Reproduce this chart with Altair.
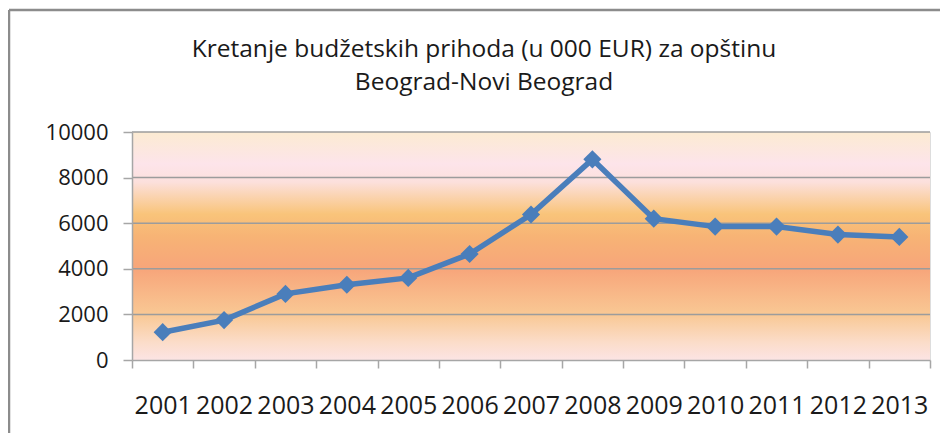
import altair as alt
import pandas as pd

years = ["2001", "2002", "2003", "2004", "2005", "2006", "2007",
         "2008", "2009", "2010", "2011", "2012", "2013"]
values = [1220, 1750, 2900, 3300, 3600, 4650, 6380,
          8800, 6200, 5850, 5850, 5500, 5400]
y_ticks = [0, 2000, 4000, 6000, 8000, 10000]
title_lines = ["Kretanje budžetskih prihoda (u 000 EUR) za opštinu",
               "Beograd-Novi Beograd"]

df = pd.DataFrame({"year": years, "value": values})
grid_df = pd.DataFrame({"value": y_ticks[1:]})
one = pd.DataFrame({"k": [0]})

FONT = "Open Sans"
W, H = 798, 228

grad = alt.Gradient(
    gradient="linear", x1=0, x2=0, y1=0, y2=1,
    stops=[
        alt.GradientStop(offset=0.0, color="#FCEBD2"),
        alt.GradientStop(offset=0.14, color="#FDE4EA"),
        alt.GradientStop(offset=0.22, color="#FCE0DC"),
        alt.GradientStop(offset=0.36, color="#F9C47A"),
        alt.GradientStop(offset=0.46, color="#F7B375"),
        alt.GradientStop(offset=0.60, color="#F7A57A"),
        alt.GradientStop(offset=0.80, color="#F9C894"),
        alt.GradientStop(offset=0.92, color="#FBDCC8"),
        alt.GradientStop(offset=1.0, color="#FCE4E4"),
    ],
)

bg = alt.Chart(one).mark_rect(fill=grad).encode(
    x=alt.value(0), x2=alt.value(W), y=alt.value(0), y2=alt.value(H)
)

y_scale = alt.Scale(domain=[0, 10000], nice=False)
y_axis = alt.Axis(
    title=None, values=y_ticks, format="d", grid=False,
    domainColor="#A6A6A6", tickColor="#A6A6A6", tickSize=9,
    labelPadding=15, labelFontSize=22, labelFont=FONT, labelColor="#1a1a1a",
    domainWidth=1.5, tickWidth=1.5, zindex=1,
)

grid = alt.Chart(grid_df).mark_rule(color="#9C9C9C", strokeWidth=1.5).encode(
    y=alt.Y("value:Q", scale=y_scale, axis=y_axis),
    x=alt.value(0), x2=alt.value(W),
)

frame_top = alt.Chart(one).mark_rule(color="#8C8C8C", strokeWidth=2.5).encode(
    x=alt.value(-123), x2=alt.value(W + 40), y=alt.value(-122)
)
frame_left = alt.Chart(one).mark_rule(color="#8C8C8C", strokeWidth=2.5).encode(
    x=alt.value(-123), y=alt.value(-122), y2=alt.value(H + 100)
)

title1 = alt.Chart(one).mark_text(
    font=FONT, fontSize=24.5, fontWeight="normal", color="#1a1a1a",
    align="center", baseline="middle"
).encode(x=alt.value(352), y=alt.value(-82), text=alt.value(title_lines[0]))
title2 = alt.Chart(one).mark_text(
    font=FONT, fontSize=24.5, fontWeight="normal", color="#1a1a1a",
    align="center", baseline="middle"
).encode(x=alt.value(352), y=alt.value(-49), text=alt.value(title_lines[1]))

x_enc = alt.X(
    "year:O",
    sort=years,
    scale=alt.Scale(type="band", paddingInner=0, paddingOuter=0),
    bandPosition=0.5,
    axis=alt.Axis(
        title=None, labelAngle=0, tickBand="extent", domainColor="#A6A6A6",
        tickColor="#A6A6A6", tickSize=8, labelPadding=25, labelFontSize=25,
        labelFont=FONT, labelColor="#1a1a1a", grid=False, domainWidth=1.5,
        tickWidth=1.5, zindex=1,
    ),
)
y_enc = alt.Y("value:Q", scale=y_scale, axis=y_axis)

line = alt.Chart(df).mark_line(
    color="#4A7EBB", strokeWidth=5.5,
    point=alt.OverlayMarkDef(shape="diamond", size=330, color="#4A7EBB", filled=True, opacity=1),
).encode(x=x_enc, y=y_enc)

chart = alt.layer(bg, grid, line, frame_top, frame_left, title1, title2).properties(
    width=W, height=H,
    padding={"left": 124, "top": 124, "right": 10, "bottom": 73},
    autosize=alt.AutoSizeParams(type="none"),
).configure_view(stroke=None).configure(background="white")

chart.save("out.html", embed_options={"renderer": "svg", "actions": False})
